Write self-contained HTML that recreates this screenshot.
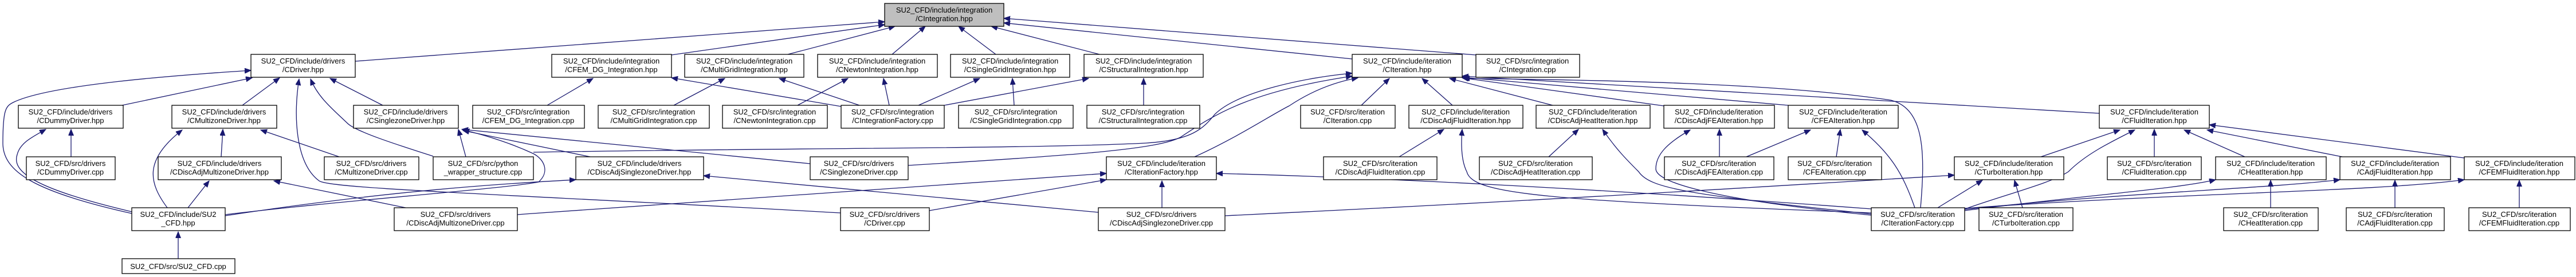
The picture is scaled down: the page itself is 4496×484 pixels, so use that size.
<!DOCTYPE html>
<html><head><meta charset="utf-8"><style>
html,body{margin:0;padding:0;background:#fff;}
svg{display:block;}
text{font-family:"Liberation Sans",sans-serif;font-size:13px;fill:#000;text-anchor:middle;}
rect{fill:#fff;stroke:#000;stroke-width:1.3;}
.e{fill:none;stroke:#191970;stroke-width:1.3;marker-end:url(#a);}
</style></head><body>
<svg width="4496" height="484" viewBox="0 0 4496 484" xmlns="http://www.w3.org/2000/svg">
<defs><marker id="a" markerUnits="userSpaceOnUse" markerWidth="12" markerHeight="10" refX="11" refY="4.5" orient="auto"><path d="M0,0 L11,4.5 L0,9 z" fill="#191970" stroke="#191970"/></marker></defs>

<!-- edges -->
<g>
<path class="e" d="M620,107 L1544,38"/>
<path class="e" d="M1172,96 L1544,43"/>
<path class="e" d="M1375,95 L1562,46"/>
<path class="e" d="M1557,95 L1615,46"/>
<path class="e" d="M1738,95 L1673,46"/>
<path class="e" d="M1919,95 L1730,46"/>
<path class="e" d="M2360,103 L1752,40"/>
<path class="e" d="M2576,96 L1752,32"/>

<path class="e" d="M230,373 C60,335 5,300 5,250 C5,190 10,185 25,178 C90,148 300,132 438,123"/>
<path class="e" d="M213,184 L440,136"/>
<path class="e" d="M423,184 L488,136"/>
<path class="e" d="M1467,372 C900,340 575,330 557,316 C515,285 512,200 522,138"/>
<path class="e" d="M756,273 C700,255 620,230 606,215 C580,190 555,170 542,138"/>
<path class="e" d="M668,184 L576,137"/>

<path class="e" d="M813,274 L800,226"/>
<path class="e" d="M1030,274 L808,228"/>
<path class="e" d="M1414,286 L806,226"/>
<path class="e" d="M393,375 C600,350 880,330 940,318 C960,300 950,278 930,268 C880,245 830,232 808,227"/>

<path class="e" d="M230,370 C60,330 20,300 30,270 C35,250 55,240 80,226"/>
<path class="e" d="M124,274 L124,226"/>
<path class="e" d="M292,363 C260,320 250,280 318,227"/>
<path class="e" d="M386,274 L389,226"/>
<path class="e" d="M592,274 L455,227"/>
<path class="e" d="M328,363 L365,316"/>
<path class="e" d="M708,363 L478,316"/>
<path class="e" d="M311,452 L311,405"/>
<path class="e" d="M393,377 C700,330 900,320 1005,314"/>
<path class="e" d="M1917,371 L1228,307"/>

<path class="e" d="M955,184 L1035,137"/>
<path class="e" d="M1176,184 L1265,137"/>
<path class="e" d="M1392,184 L1480,137"/>
<path class="e" d="M1468,186 L1172,136"/>
<path class="e" d="M1500,184 L1360,137"/>
<path class="e" d="M1552,184 L1542,137"/>
<path class="e" d="M1603,184 L1710,137"/>
<path class="e" d="M1648,184 L1900,137"/>
<path class="e" d="M1770,184 L1767,137"/>
<path class="e" d="M1996,184 L1996,137"/>

<path class="e" d="M2376,184 L2425,137"/>
<path class="e" d="M2535,184 L2482,137"/>
<path class="e" d="M2710,184 L2530,137"/>
<path class="e" d="M2904,185 L2552,136"/>
<path class="e" d="M3121,184 L2552,135"/>
<path class="e" d="M3664,198 L2552,133"/>
<path class="e" d="M3352,363 C3360,270 3360,190 3300,175 C3100,145 2800,140 2554,137"/>
<path class="e" d="M2085,274 C2160,240 2220,200 2250,185 C2280,165 2320,145 2370,136"/>
<path class="e" d="M931,266 C1400,258 1800,260 2000,250 C2080,245 2100,225 2120,200 C2160,160 2280,135 2360,128"/>
<path class="e" d="M1585,289 C1900,270 2020,260 2060,240 C2120,200 2180,160 2360,133"/>

<path class="e" d="M1622,368 L1931,314"/>
<path class="e" d="M903,375 C1300,345 1700,320 1931,303"/>
<path class="e" d="M2028,363 L2028,316"/>
<path class="e" d="M3266,365 C2800,330 2400,310 2123,303"/>

<path class="e" d="M2442,274 L2520,226"/>
<path class="e" d="M3266,372 C2700,350 2570,340 2560,300 C2550,280 2550,250 2552,226"/>
<path class="e" d="M2703,274 L2755,226"/>
<path class="e" d="M3266,374 C2950,340 2880,330 2860,300 C2840,280 2820,260 2797,226"/>
<path class="e" d="M3001,274 L3001,226"/>
<path class="e" d="M3266,376 C3000,350 2890,320 2890,295 C2890,270 2910,250 2950,227"/>
<path class="e" d="M3048,274 L3160,227"/>
<path class="e" d="M3205,274 L3212,226"/>
<path class="e" d="M3342,363 C3320,300 3300,270 3250,227"/>
<path class="e" d="M3562,274 L3700,227"/>
<path class="e" d="M3430,365 C3500,340 3580,320 3610,300 C3640,270 3680,250 3726,227"/>
<path class="e" d="M3760,274 L3760,226"/>
<path class="e" d="M3918,274 L3812,227"/>
<path class="e" d="M4088,274 L3852,227"/>
<path class="e" d="M4301,276 L3856,218"/>

<path class="e" d="M3382,363 L3460,315"/>
<path class="e" d="M3530,363 L3516,315"/>
<path class="e" d="M2138,377 C2700,350 3100,325 3411,306"/>
<path class="e" d="M3429,368 C3650,340 3800,330 3867,314"/>
<path class="e" d="M3963,363 L3963,315"/>
<path class="e" d="M3429,366 C3700,337 3950,330 4084,314"/>
<path class="e" d="M4180,363 L4180,315"/>
<path class="e" d="M3429,364 C3800,337 4150,335 4301,314"/>
<path class="e" d="M4397,363 L4397,315"/>
</g>

<!-- nodes -->
<g>
<rect x="1544" y="6" width="208" height="40" style="fill:#bfbfbf"/><text x="1648" y="22">SU2_CFD/include/integration</text><text x="1648" y="37">/CIntegration.hpp</text>

<rect x="438" y="95" width="182" height="40"/><text x="529" y="111">SU2_CFD/include/drivers</text><text x="529" y="126">/CDriver.hpp</text>
<rect x="963" y="95" width="209" height="40"/><text x="1067" y="111">SU2_CFD/include/integration</text><text x="1067" y="126">/CFEM_DG_Integration.hpp</text>
<rect x="1195" y="95" width="208" height="40"/><text x="1299" y="111">SU2_CFD/include/integration</text><text x="1299" y="126">/CMultiGridIntegration.hpp</text>
<rect x="1427" y="95" width="209" height="40"/><text x="1531" y="111">SU2_CFD/include/integration</text><text x="1531" y="126">/CNewtonIntegration.hpp</text>
<rect x="1659" y="95" width="208" height="40"/><text x="1763" y="111">SU2_CFD/include/integration</text><text x="1763" y="126">/CSingleGridIntegration.hpp</text>
<rect x="1892" y="95" width="208" height="40"/><text x="1996" y="111">SU2_CFD/include/integration</text><text x="1996" y="126">/CStructuralIntegration.hpp</text>
<rect x="2360" y="95" width="192" height="40"/><text x="2456" y="111">SU2_CFD/include/iteration</text><text x="2456" y="126">/CIteration.hpp</text>
<rect x="2576" y="95" width="181" height="40"/><text x="2666" y="111">SU2_CFD/src/integration</text><text x="2666" y="126">/CIntegration.cpp</text>

<rect x="32" y="184" width="183" height="40"/><text x="123" y="200">SU2_CFD/include/drivers</text><text x="123" y="215">/CDummyDriver.hpp</text>
<rect x="300" y="184" width="183" height="40"/><text x="391" y="200">SU2_CFD/include/drivers</text><text x="391" y="215">/CMultizoneDriver.hpp</text>
<rect x="617" y="184" width="183" height="40"/><text x="708" y="200">SU2_CFD/include/drivers</text><text x="708" y="215">/CSinglezoneDriver.hpp</text>
<rect x="825" y="184" width="195" height="40"/><text x="922" y="200">SU2_CFD/src/integration</text><text x="922" y="215">/CFEM_DG_Integration.cpp</text>
<rect x="1044" y="184" width="194" height="40"/><text x="1141" y="200">SU2_CFD/src/integration</text><text x="1141" y="215">/CMultiGridIntegration.cpp</text>
<rect x="1261" y="184" width="183" height="40"/><text x="1352" y="200">SU2_CFD/src/integration</text><text x="1352" y="215">/CNewtonIntegration.cpp</text>
<rect x="1468" y="184" width="180" height="40"/><text x="1558" y="200">SU2_CFD/src/integration</text><text x="1558" y="215">/CIntegrationFactory.cpp</text>
<rect x="1673" y="184" width="200" height="40"/><text x="1773" y="200">SU2_CFD/src/integration</text><text x="1773" y="215">/CSingleGridIntegration.cpp</text>
<rect x="1897" y="184" width="197" height="40"/><text x="1995" y="200">SU2_CFD/src/integration</text><text x="1995" y="215">/CStructuralIntegration.cpp</text>
<rect x="2270" y="184" width="165" height="40"/><text x="2352" y="200">SU2_CFD/src/iteration</text><text x="2352" y="215">/CIteration.cpp</text>
<rect x="2459" y="184" width="199" height="40"/><text x="2558" y="200">SU2_CFD/include/iteration</text><text x="2558" y="215">/CDiscAdjFluidIteration.hpp</text>
<rect x="2681" y="184" width="199" height="40"/><text x="2780" y="200">SU2_CFD/include/iteration</text><text x="2780" y="215">/CDiscAdjHeatIteration.hpp</text>
<rect x="2904" y="184" width="193" height="40"/><text x="3000" y="200">SU2_CFD/include/iteration</text><text x="3000" y="215">/CDiscAdjFEAIteration.hpp</text>
<rect x="3121" y="184" width="192" height="40"/><text x="3217" y="200">SU2_CFD/include/iteration</text><text x="3217" y="215">/CFEAIteration.hpp</text>
<rect x="3664" y="184" width="192" height="40"/><text x="3760" y="200">SU2_CFD/include/iteration</text><text x="3760" y="215">/CFluidIteration.hpp</text>

<rect x="46" y="274" width="155" height="40"/><text x="123" y="290">SU2_CFD/src/drivers</text><text x="123" y="305">/CDummyDriver.cpp</text>
<rect x="276" y="274" width="215" height="40"/><text x="383" y="290">SU2_CFD/include/drivers</text><text x="383" y="305">/CDiscAdjMultizoneDriver.hpp</text>
<rect x="566" y="274" width="165" height="40"/><text x="648" y="290">SU2_CFD/src/drivers</text><text x="648" y="305">/CMultizoneDriver.cpp</text>
<rect x="756" y="274" width="175" height="40"/><text x="843" y="290">SU2_CFD/src/python</text><text x="843" y="305">_wrapper_structure.cpp</text>
<rect x="1005" y="274" width="223" height="40"/><text x="1116" y="290">SU2_CFD/include/drivers</text><text x="1116" y="305">/CDiscAdjSinglezoneDriver.hpp</text>
<rect x="1414" y="274" width="171" height="40"/><text x="1499" y="290">SU2_CFD/src/drivers</text><text x="1499" y="305">/CSinglezoneDriver.cpp</text>
<rect x="1931" y="274" width="192" height="40"/><text x="2027" y="290">SU2_CFD/include/iteration</text><text x="2027" y="305">/CIterationFactory.hpp</text>
<rect x="2310" y="274" width="198" height="40"/><text x="2409" y="290">SU2_CFD/src/iteration</text><text x="2409" y="305">/CDiscAdjFluidIteration.cpp</text>
<rect x="2582" y="274" width="197" height="40"/><text x="2680" y="290">SU2_CFD/src/iteration</text><text x="2680" y="305">/CDiscAdjHeatIteration.cpp</text>
<rect x="2905" y="274" width="191" height="40"/><text x="3000" y="290">SU2_CFD/src/iteration</text><text x="3000" y="305">/CDiscAdjFEAIteration.cpp</text>
<rect x="3121" y="274" width="163" height="40"/><text x="3202" y="290">SU2_CFD/src/iteration</text><text x="3202" y="305">/CFEAIteration.cpp</text>
<rect x="3411" y="274" width="191" height="40"/><text x="3506" y="290">SU2_CFD/include/iteration</text><text x="3506" y="305">/CTurboIteration.hpp</text>
<rect x="3678" y="274" width="164" height="40"/><text x="3760" y="290">SU2_CFD/src/iteration</text><text x="3760" y="305">/CFluidIteration.cpp</text>
<rect x="3867" y="274" width="193" height="40"/><text x="3963" y="290">SU2_CFD/include/iteration</text><text x="3963" y="305">/CHeatIteration.hpp</text>
<rect x="4084" y="274" width="193" height="40"/><text x="4180" y="290">SU2_CFD/include/iteration</text><text x="4180" y="305">/CAdjFluidIteration.hpp</text>
<rect x="4301" y="274" width="193" height="40"/><text x="4397" y="290">SU2_CFD/include/iteration</text><text x="4397" y="305">/CFEMFluidIteration.hpp</text>

<rect x="230" y="363" width="163" height="40"/><text x="311" y="379">SU2_CFD/include/SU2</text><text x="311" y="394">_CFD.hpp</text>
<rect x="688" y="363" width="215" height="40"/><text x="795" y="379">SU2_CFD/src/drivers</text><text x="795" y="394">/CDiscAdjMultizoneDriver.cpp</text>
<rect x="1467" y="363" width="155" height="40"/><text x="1544" y="379">SU2_CFD/src/drivers</text><text x="1544" y="394">/CDriver.cpp</text>
<rect x="1917" y="363" width="221" height="40"/><text x="2027" y="379">SU2_CFD/src/drivers</text><text x="2027" y="394">/CDiscAdjSinglezoneDriver.cpp</text>
<rect x="3266" y="363" width="163" height="40"/><text x="3347" y="379">SU2_CFD/src/iteration</text><text x="3347" y="394">/CIterationFactory.cpp</text>
<rect x="3454" y="363" width="164" height="40"/><text x="3536" y="379">SU2_CFD/src/iteration</text><text x="3536" y="394">/CTurboIteration.cpp</text>
<rect x="3881" y="363" width="165" height="40"/><text x="3963" y="379">SU2_CFD/src/iteration</text><text x="3963" y="394">/CHeatIteration.cpp</text>
<rect x="4095" y="363" width="171" height="40"/><text x="4180" y="379">SU2_CFD/src/iteration</text><text x="4180" y="394">/CAdjFluidIteration.cpp</text>
<rect x="4309" y="363" width="177" height="40"/><text x="4397" y="379">SU2_CFD/src/iteration</text><text x="4397" y="394">/CFEMFluidIteration.cpp</text>

<rect x="213" y="452" width="197" height="26"/><text x="311" y="470">SU2_CFD/src/SU2_CFD.cpp</text>
</g>
</svg>
</body></html>
